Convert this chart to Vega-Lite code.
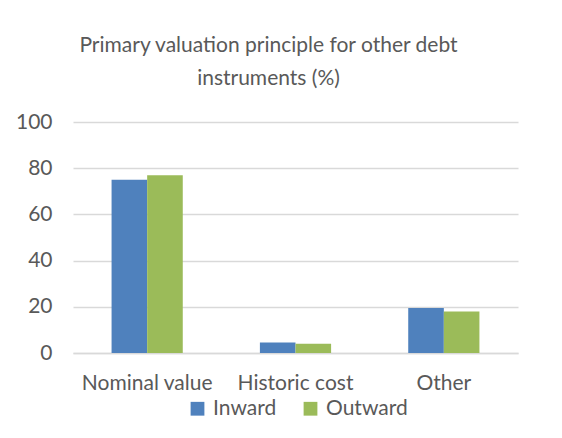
{
  "$schema": "https://vega.github.io/schema/vega-lite/v6.json",
  "width": 445,
  "height": 231,
  "autosize": {"type": "none"},
  "padding": {"left": 73, "top": 122, "right": 44, "bottom": 85},
  "background": "white",
  "config": {
    "font": "Lato",
    "view": {"stroke": null}
  },
  "title": {
    "text": ["Primary valuation principle for other debt", "instruments (%)"],
    "fontSize": 21,
    "fontWeight": "normal",
    "color": "#595959",
    "anchor": "middle",
    "dx": -27,
    "offset": 22,
    "lineHeight": 33
  },
  "data": {
    "values": [
      {"category": "Nominal value", "series": "Inward", "value": 75},
      {"category": "Nominal value", "series": "Outward", "value": 77},
      {"category": "Historic cost", "series": "Inward", "value": 4.5},
      {"category": "Historic cost", "series": "Outward", "value": 4},
      {"category": "Other", "series": "Inward", "value": 19.5},
      {"category": "Other", "series": "Outward", "value": 18}
    ]
  },
  "mark": {"type": "bar"},
  "encoding": {
    "x": {
      "field": "category",
      "type": "nominal",
      "sort": ["Nominal value", "Historic cost", "Other"],
      "scale": {"paddingInner": 0.52, "paddingOuter": 0.26},
      "axis": {
        "title": null,
        "labelAngle": 0,
        "labelFontSize": 21,
        "labelColor": "#595959",
        "labelPadding": 19,
        "ticks": false,
        "domainColor": "#d9d9d9",
        "domainWidth": 1.5
      }
    },
    "xOffset": {"field": "series", "type": "nominal", "sort": ["Inward", "Outward"], "scale": {"paddingInner": 0}},
    "y": {
      "field": "value",
      "type": "quantitative",
      "scale": {"domain": [0, 100]},
      "axis": {
        "title": null,
        "values": [0, 20, 40, 60, 80, 100],
        "labelFontSize": 21,
        "labelColor": "#595959",
        "labelPadding": 21,
        "ticks": false,
        "domain": false,
        "gridColor": "#d9d9d9",
        "gridWidth": 1.5
      }
    },
    "color": {
      "field": "series",
      "type": "nominal",
      "sort": ["Inward", "Outward"],
      "scale": {"domain": ["Inward", "Outward"], "range": ["#4F81BD", "#9BBB59"]},
      "legend": {
        "title": null,
        "orient": "none",
        "legendX": 114,
        "legendY": 276,
        "direction": "horizontal",
        "labelFontSize": 21,
        "labelColor": "#595959",
        "symbolType": "square",
        "symbolSize": 190,
        "symbolStrokeWidth": 0,
        "labelOffset": 5,
        "columnPadding": 23
      }
    }
  }
}
